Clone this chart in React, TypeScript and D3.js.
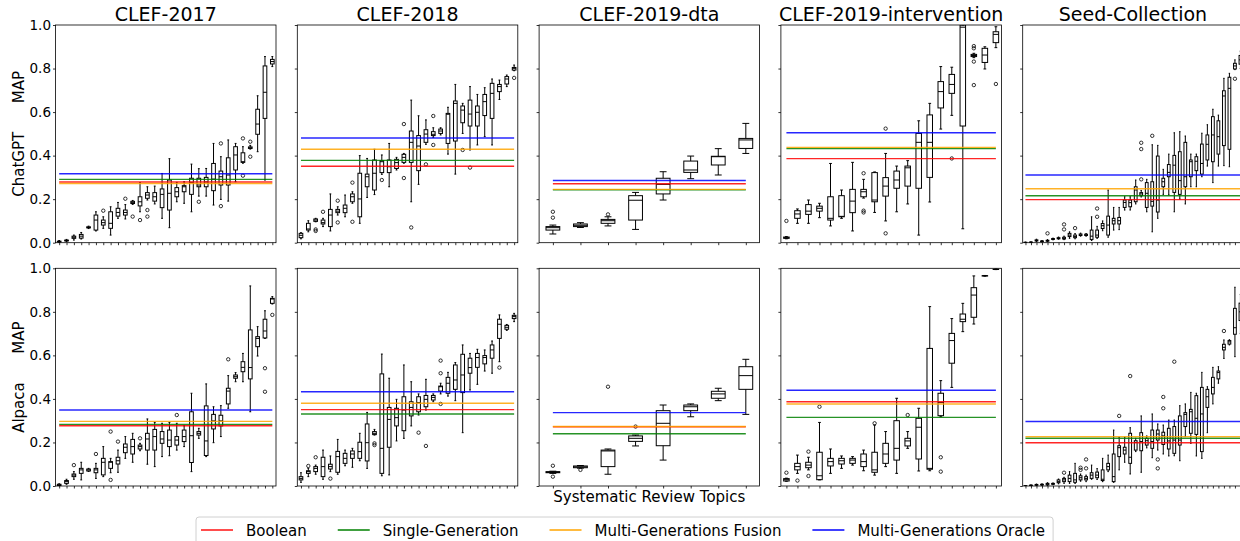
import { useEffect, useRef } from 'react';
import * as d3 from 'd3';

// [whisker low, q1, median, q3, whisker high, outliers?]
type Box = [number, number, number, number, number, number[]?];

const datasets = ['CLEF-2017', 'CLEF-2018', 'CLEF-2019-dta', 'CLEF-2019-intervention', 'Seed-Collection'];
const models = ['ChatGPT', 'Alpaca'];
const methods = ['Boolean', 'Single-Generation', 'Multi-Generations Fusion', 'Multi-Generations Oracle'];
const methodColors = ['red', 'green', 'orange', 'blue'];
const yTicks = [0, 0.2, 0.4, 0.6, 0.8, 1.0];

const chatgpt2017: Box[] = [
  [0.000, 0.003, 0.005, 0.007, 0.010], [0.005, 0.008, 0.010, 0.012, 0.015], [0.012, 0.020, 0.025, 0.030, 0.035],
  [0.017, 0.021, 0.030, 0.038, 0.047], [0.065, 0.068, 0.070, 0.073, 0.076], [0.054, 0.058, 0.104, 0.127, 0.142],
  [0.066, 0.081, 0.092, 0.104, 0.119, [0.147]], [0.035, 0.066, 0.089, 0.142, 0.165], [0.112, 0.122, 0.139, 0.158, 0.185],
  [0.109, 0.127, 0.139, 0.150, 0.175, [0.202]], [0.176, 0.180, 0.184, 0.190, 0.194, [0.120]], [0.142, 0.169, 0.188, 0.211, 0.276, [0.104]],
  [0.196, 0.204, 0.219, 0.230, 0.257, [0.150, 0.120]], [0.178, 0.191, 0.211, 0.230, 0.260], [0.112, 0.161, 0.222, 0.247, 0.318],
  [0.069, 0.150, 0.227, 0.288, 0.386], [0.188, 0.211, 0.234, 0.253, 0.277], [0.181, 0.234, 0.257, 0.262, 0.280],
  [0.142, 0.222, 0.277, 0.296, 0.361], [0.214, 0.257, 0.265, 0.296, 0.340, [0.188]], [0.214, 0.257, 0.279, 0.300, 0.341],
  [0.173, 0.239, 0.292, 0.364, 0.456], [0.199, 0.265, 0.303, 0.329, 0.395, [0.456, 0.168]], [0.191, 0.265, 0.311, 0.390, 0.472],
  [0.280, 0.334, 0.403, 0.441, 0.456], [0.365, 0.369, 0.372, 0.413, 0.441, [0.479, 0.308]], [0.430, 0.433, 0.436, 0.440, 0.447, [0.464, 0.395]],
  [0.418, 0.498, 0.545, 0.613, 0.675], [0.288, 0.571, 0.691, 0.812, 0.855], [0.809, 0.821, 0.832, 0.842, 0.855],
];

const chatgpt2018: Box[] = [
  [0.018, 0.023, 0.034, 0.043, 0.046], [0.050, 0.058, 0.063, 0.089, 0.101], [0.096, 0.098, 0.104, 0.109, 0.112, [0.061, 0.054]],
  [0.074, 0.086, 0.092, 0.104, 0.112, [0.142]], [0.054, 0.074, 0.127, 0.153, 0.224], [0.127, 0.138, 0.145, 0.153, 0.165, [0.193, 0.093]],
  [0.119, 0.138, 0.158, 0.173, 0.219], [0.181, 0.188, 0.211, 0.224, 0.234, [0.276, 0.096]], [0.089, 0.119, 0.201, 0.319, 0.400],
  [0.208, 0.257, 0.303, 0.315, 0.387], [0.221, 0.242, 0.319, 0.380, 0.429], [0.314, 0.322, 0.372, 0.377, 0.403, [0.288]],
  [0.257, 0.322, 0.349, 0.380, 0.456], [0.334, 0.341, 0.368, 0.383, 0.392], [0.365, 0.369, 0.392, 0.406, 0.410, [0.545, 0.297]],
  [0.188, 0.369, 0.461, 0.513, 0.655, [0.070]], [0.268, 0.331, 0.444, 0.492, 0.583], [0.452, 0.461, 0.499, 0.519, 0.564, [0.360]],
  [0.484, 0.492, 0.498, 0.510, 0.528, [0.582, 0.449]], [0.495, 0.502, 0.513, 0.522, 0.528], [0.407, 0.456, 0.590, 0.594, 0.622],
  [0.315, 0.467, 0.640, 0.651, 0.727], [0.502, 0.551, 0.609, 0.628, 0.640, [0.426]], [0.426, 0.536, 0.591, 0.655, 0.717, [0.345]],
  [0.449, 0.536, 0.599, 0.628, 0.681], [0.487, 0.584, 0.648, 0.681, 0.712], [0.449, 0.571, 0.686, 0.732, 0.752],
  [0.658, 0.694, 0.717, 0.727, 0.747], [0.717, 0.729, 0.752, 0.763, 0.770], [0.790, 0.793, 0.801, 0.805, 0.816, [0.757]],
];

const chatgptDta: Box[] = [
  [0.040, 0.058, 0.069, 0.074, 0.081, [0.142, 0.115]], [0.070, 0.074, 0.080, 0.086, 0.092],
  [0.077, 0.089, 0.101, 0.107, 0.119, [0.130]], [0.061, 0.104, 0.195, 0.216, 0.231],
  [0.196, 0.224, 0.268, 0.296, 0.326], [0.294, 0.323, 0.334, 0.375, 0.398],
  [0.311, 0.357, 0.395, 0.397, 0.432], [0.410, 0.433, 0.472, 0.479, 0.548],
];

const chatgptIntervention: Box[] = [
  [0.018, 0.020, 0.023, 0.026, 0.028, [0.100]], [0.089, 0.112, 0.132, 0.147, 0.155], [0.089, 0.130, 0.145, 0.175, 0.196],
  [0.115, 0.145, 0.158, 0.168, 0.181], [0.077, 0.104, 0.112, 0.211, 0.364], [0.112, 0.119, 0.121, 0.216, 0.242],
  [0.054, 0.138, 0.191, 0.245, 0.369], [0.205, 0.211, 0.234, 0.245, 0.291, [0.319, 0.147, 0.139]], [0.139, 0.188, 0.196, 0.322, 0.325],
  [0.100, 0.214, 0.260, 0.299, 0.410, [0.524, 0.043]], [0.142, 0.250, 0.288, 0.329, 0.352], [0.178, 0.260, 0.344, 0.352, 0.377],
  [0.035, 0.250, 0.461, 0.502, 0.560], [0.187, 0.300, 0.461, 0.587, 0.640], [0.522, 0.619, 0.694, 0.740, 0.809],
  [0.585, 0.686, 0.727, 0.773, 0.806, [0.387]], [0.064, 0.536, 0.990, 1.000, 1.000], [0.850, 0.855, 0.860, 0.865, 0.870, [0.903, 0.893, 0.832, 0.724]],
  [0.798, 0.828, 0.862, 0.893, 0.900], [0.896, 0.919, 0.957, 0.969, 0.992, [0.729]],
];

const chatgptSeed: Box[] = [
  [0.000, 0.000, 0.001, 0.002, 0.003], [0.000, 0.001, 0.002, 0.003, 0.004], [0.005, 0.008, 0.010, 0.013, 0.016],
  [0.003, 0.005, 0.006, 0.008, 0.010], [0.005, 0.007, 0.009, 0.011, 0.014, [0.043]], [0.013, 0.015, 0.017, 0.019, 0.021],
  [0.016, 0.018, 0.020, 0.023, 0.026], [0.014, 0.017, 0.020, 0.025, 0.030, [0.084, 0.061]], [0.020, 0.028, 0.035, 0.043, 0.050],
  [0.018, 0.023, 0.028, 0.035, 0.042, [0.067]], [0.030, 0.033, 0.036, 0.040, 0.044], [0.030, 0.033, 0.036, 0.039, 0.042],
  [0.010, 0.015, 0.030, 0.058, 0.119], [0.020, 0.025, 0.035, 0.058, 0.075, [0.157, 0.119]], [0.055, 0.065, 0.078, 0.088, 0.100],
  [0.025, 0.035, 0.081, 0.122, 0.242], [0.058, 0.086, 0.101, 0.112, 0.162], [0.060, 0.086, 0.101, 0.116, 0.162],
  [0.150, 0.162, 0.185, 0.196, 0.211], [0.150, 0.165, 0.184, 0.196, 0.211], [0.178, 0.188, 0.242, 0.257, 0.288],
  [0.210, 0.216, 0.224, 0.230, 0.240, [0.291, 0.459, 0.430]], [0.142, 0.162, 0.227, 0.276, 0.291], [0.050, 0.168, 0.190, 0.280, 0.450, [0.491]],
  [0.112, 0.141, 0.196, 0.398, 0.447], [0.222, 0.257, 0.280, 0.296, 0.337], [0.219, 0.303, 0.323, 0.359, 0.407],
  [0.142, 0.231, 0.356, 0.401, 0.505], [0.200, 0.222, 0.285, 0.418, 0.510], [0.178, 0.257, 0.303, 0.461, 0.490],
  [0.257, 0.303, 0.372, 0.380, 0.407], [0.257, 0.331, 0.374, 0.395, 0.407], [0.303, 0.315, 0.364, 0.453, 0.503],
  [0.352, 0.380, 0.452, 0.495, 0.542], [0.276, 0.372, 0.495, 0.579, 0.613], [0.352, 0.407, 0.487, 0.560, 0.586],
  [0.354, 0.446, 0.674, 0.698, 0.755], [0.349, 0.429, 0.709, 0.760, 0.778], [0.795, 0.798, 0.812, 0.824, 0.840, [0.753]],
  [0.800, 0.820, 0.840, 0.860, 0.880],
];

const alpaca2017: Box[] = [
  [0.000, 0.002, 0.005, 0.008, 0.010], [0.008, 0.012, 0.020, 0.025, 0.031], [0.031, 0.043, 0.050, 0.055, 0.066, [0.096]],
  [0.028, 0.058, 0.074, 0.081, 0.109], [0.067, 0.069, 0.074, 0.078, 0.081], [0.035, 0.061, 0.074, 0.081, 0.104, [0.147]],
  [0.043, 0.051, 0.109, 0.127, 0.181], [0.061, 0.081, 0.109, 0.112, 0.127, [0.250, 0.028]], [0.063, 0.101, 0.116, 0.132, 0.165, [0.204]],
  [0.127, 0.153, 0.178, 0.193, 0.227], [0.109, 0.147, 0.181, 0.214, 0.242], [0.162, 0.170, 0.181, 0.188, 0.196, [0.219]],
  [0.100, 0.165, 0.216, 0.242, 0.308], [0.089, 0.165, 0.227, 0.260, 0.292], [0.135, 0.196, 0.216, 0.250, 0.288],
  [0.139, 0.181, 0.211, 0.257, 0.292], [0.165, 0.188, 0.211, 0.227, 0.288, [0.326]], [0.181, 0.204, 0.227, 0.257, 0.277],
  [0.066, 0.108, 0.231, 0.341, 0.426], [0.219, 0.234, 0.242, 0.250, 0.265], [0.135, 0.140, 0.207, 0.368, 0.469],
  [0.199, 0.262, 0.299, 0.329, 0.364], [0.227, 0.276, 0.299, 0.325, 0.369], [0.357, 0.377, 0.436, 0.449, 0.507, [0.582]],
  [0.479, 0.495, 0.502, 0.510, 0.521], [0.479, 0.525, 0.545, 0.571, 0.609], [0.341, 0.492, 0.544, 0.717, 0.919],
  [0.597, 0.640, 0.678, 0.686, 0.732], [0.678, 0.680, 0.712, 0.766, 0.805, [0.541, 0.433]], [0.836, 0.839, 0.859, 0.862, 0.870, [0.786]],
];

const alpaca2018: Box[] = [
  [0.017, 0.028, 0.035, 0.043, 0.061], [0.043, 0.058, 0.066, 0.070, 0.081, [0.092]], [0.054, 0.066, 0.081, 0.089, 0.096, [0.132]],
  [0.031, 0.043, 0.089, 0.132, 0.165], [0.066, 0.078, 0.089, 0.100, 0.138, [0.034]], [0.054, 0.063, 0.135, 0.159, 0.214],
  [0.093, 0.104, 0.127, 0.150, 0.165], [0.086, 0.127, 0.147, 0.161, 0.173], [0.116, 0.127, 0.158, 0.201, 0.242],
  [0.081, 0.115, 0.199, 0.285, 0.338], [0.234, 0.236, 0.242, 0.250, 0.260, [0.196, 0.188]], [0.047, 0.058, 0.173, 0.515, 0.606],
  [0.051, 0.178, 0.306, 0.361, 0.495], [0.207, 0.276, 0.314, 0.357, 0.398], [0.219, 0.254, 0.349, 0.410, 0.556],
  [0.276, 0.322, 0.361, 0.387, 0.479], [0.326, 0.341, 0.383, 0.410, 0.423, [0.245]], [0.349, 0.364, 0.398, 0.416, 0.490, [0.184]],
  [0.387, 0.395, 0.407, 0.416, 0.423], [0.423, 0.436, 0.456, 0.459, 0.472, [0.576, 0.518, 0.377]], [0.413, 0.426, 0.472, 0.499, 0.522],
  [0.392, 0.444, 0.487, 0.556, 0.567], [0.245, 0.429, 0.510, 0.605, 0.648], [0.441, 0.518, 0.544, 0.587, 0.609],
  [0.467, 0.545, 0.590, 0.609, 0.628], [0.528, 0.561, 0.590, 0.599, 0.625], [0.518, 0.587, 0.625, 0.648, 0.666],
  [0.571, 0.678, 0.743, 0.766, 0.786, [0.544]], [0.715, 0.720, 0.729, 0.738, 0.742], [0.755, 0.769, 0.778, 0.784, 0.793],
];

const alpacaDta: Box[] = [
  [0.058, 0.061, 0.063, 0.066, 0.068, [0.093, 0.043]], [0.082, 0.084, 0.088, 0.092, 0.094, [0.074]],
  [0.054, 0.089, 0.161, 0.165, 0.170, [0.456]], [0.184, 0.205, 0.219, 0.230, 0.234, [0.273]],
  [0.119, 0.185, 0.288, 0.346, 0.372], [0.318, 0.346, 0.364, 0.372, 0.377],
  [0.392, 0.403, 0.423, 0.435, 0.449], [0.329, 0.444, 0.507, 0.548, 0.582],
];

const alpacaIntervention: Box[] = [
  [0.022, 0.023, 0.029, 0.034, 0.036, [0.061]], [0.058, 0.074, 0.089, 0.104, 0.142, [0.025]], [0.074, 0.084, 0.096, 0.109, 0.132, [0.158, 0.046]],
  [0.028, 0.029, 0.047, 0.155, 0.292, [0.364]], [0.058, 0.092, 0.112, 0.127, 0.170], [0.081, 0.101, 0.116, 0.127, 0.138],
  [0.096, 0.104, 0.119, 0.127, 0.135], [0.070, 0.089, 0.112, 0.147, 0.165], [0.050, 0.063, 0.074, 0.155, 0.280, [0.288]],
  [0.089, 0.104, 0.147, 0.196, 0.250], [0.058, 0.119, 0.173, 0.300, 0.403], [0.173, 0.184, 0.207, 0.219, 0.250, [0.326]],
  [0.069, 0.124, 0.270, 0.311, 0.357], [0.070, 0.077, 0.081, 0.632, 0.824], [0.318, 0.323, 0.383, 0.426, 0.484, [0.132, 0.066]],
  [0.453, 0.564, 0.668, 0.701, 0.769], [0.709, 0.755, 0.766, 0.790, 0.839], [0.744, 0.775, 0.877, 0.911, 0.965],
  [0.964, 0.965, 0.966, 0.966, 0.967], [0.994, 0.995, 0.995, 0.996, 0.997],
];

const alpacaSeed: Box[] = [
  [0.000, 0.000, 0.001, 0.001, 0.002], [0.001, 0.002, 0.003, 0.004, 0.005], [0.002, 0.004, 0.005, 0.007, 0.009],
  [0.003, 0.005, 0.006, 0.008, 0.010], [0.003, 0.005, 0.008, 0.012, 0.015], [0.006, 0.008, 0.010, 0.012, 0.014],
  [0.010, 0.015, 0.020, 0.028, 0.032], [0.012, 0.020, 0.028, 0.035, 0.040, [0.061]], [0.012, 0.020, 0.035, 0.050, 0.066],
  [0.012, 0.017, 0.028, 0.058, 0.104], [0.022, 0.028, 0.038, 0.047, 0.055, [0.084, 0.074]], [0.020, 0.028, 0.035, 0.043, 0.050, [0.122, 0.081]],
  [0.031, 0.035, 0.050, 0.061, 0.096], [0.030, 0.038, 0.050, 0.064, 0.080], [0.020, 0.025, 0.031, 0.074, 0.127],
  [0.066, 0.074, 0.089, 0.104, 0.142], [0.017, 0.020, 0.043, 0.147, 0.257], [0.074, 0.135, 0.176, 0.185, 0.224, [0.322]],
  [0.109, 0.147, 0.165, 0.178, 0.224], [0.055, 0.104, 0.132, 0.242, 0.268, [0.505]], [0.158, 0.165, 0.200, 0.208, 0.219],
  [0.063, 0.162, 0.204, 0.245, 0.322], [0.175, 0.188, 0.208, 0.219, 0.230], [0.130, 0.173, 0.204, 0.257, 0.331],
  [0.165, 0.211, 0.239, 0.257, 0.285, [0.122, 0.081]], [0.147, 0.191, 0.230, 0.247, 0.280, [0.409, 0.357]], [0.138, 0.170, 0.207, 0.265, 0.303],
  [0.139, 0.150, 0.211, 0.273, 0.303, [0.571]], [0.116, 0.188, 0.211, 0.322, 0.369], [0.227, 0.273, 0.329, 0.337, 0.377],
  [0.196, 0.242, 0.341, 0.352, 0.430], [0.138, 0.237, 0.311, 0.415, 0.426], [0.127, 0.158, 0.331, 0.453, 0.522],
  [0.245, 0.361, 0.410, 0.444, 0.456], [0.377, 0.423, 0.453, 0.499, 0.545], [0.472, 0.492, 0.521, 0.528, 0.548],
  [0.586, 0.625, 0.637, 0.651, 0.671, [0.712]], [0.648, 0.652, 0.662, 0.668, 0.672], [0.594, 0.697, 0.727, 0.816, 0.913],
  [0.700, 0.760, 0.800, 0.840, 0.880],
];

// per dataset: Boolean, Single-Generation, Multi-Generations Fusion, Multi-Generations Oracle
const chatgptBaselines = [
  [0.279, 0.291, 0.272, 0.317],
  [0.351, 0.378, 0.429, 0.481],
  [0.271, 0.243, 0.245, 0.286],
  [0.386, 0.432, 0.438, 0.505],
  [0.198, 0.216, 0.248, 0.311],
];
const alpacaBaselines = [
  [0.277, 0.283, 0.297, 0.349],
  [0.351, 0.331, 0.380, 0.433],
  [0.272, 0.240, 0.273, 0.337],
  [0.387, 0.315, 0.377, 0.440],
  [0.199, 0.219, 0.227, 0.296],
];

const boxRows = [
  [chatgpt2017, chatgpt2018, chatgptDta, chatgptIntervention, chatgptSeed],
  [alpaca2017, alpaca2018, alpacaDta, alpacaIntervention, alpacaSeed],
];
const baselineRows = [chatgptBaselines, alpacaBaselines];

const FONT = "'DejaVu Sans', sans-serif";

export default function App() {
  const svgRef = useRef<SVGSVGElement>(null);

  useEffect(() => {
    if (!svgRef.current) return;
    const width = 1240;
    const height = 541;
    const panelW = 220.5;
    const panelH = 217.7;
    const lefts = datasets.map((_, i) => 55.5 + i * 241.8);
    const tops = [25, 268.3];

    const svg = d3.select(svgRef.current)
      .attr('width', width)
      .attr('height', height)
      .attr('viewBox', `0 0 ${width} ${height}`);
    svg.selectAll('*').remove();
    svg.append('rect').attr('width', width).attr('height', height).attr('fill', '#fff');

    const defs = svg.append('defs');

    boxRows.forEach((row, r) => {
      row.forEach((boxes, c) => {
        const left = lefts[c];
        const top = tops[r];
        const n = boxes.length;
        const x = d3.scaleLinear().domain([0.5, n + 0.5]).range([left, left + panelW]);
        const y = d3.scaleLinear().domain([0, 1]).range([top + panelH, top]);
        const clipId = `clip-${r}-${c}`;
        defs.append('clipPath').attr('id', clipId)
          .append('rect').attr('x', left).attr('y', top).attr('width', panelW).attr('height', panelH);

        const g = svg.append('g').attr('clip-path', `url(#${clipId})`);
        const boxG = g.selectAll('g.box')
          .data(boxes)
          .join('g')
          .attr('class', 'box')
          .attr('stroke', '#000')
          .attr('stroke-width', 1)
          .attr('fill', 'none');

        // whiskers
        boxG.append('line')
          .attr('x1', (_, i) => x(i + 1)).attr('x2', (_, i) => x(i + 1))
          .attr('y1', d => y(d[0])).attr('y2', d => y(d[1]));
        boxG.append('line')
          .attr('x1', (_, i) => x(i + 1)).attr('x2', (_, i) => x(i + 1))
          .attr('y1', d => y(d[3])).attr('y2', d => y(d[4]));
        // caps
        boxG.append('line')
          .attr('x1', (_, i) => x(i + 1 - 0.125)).attr('x2', (_, i) => x(i + 1 + 0.125))
          .attr('y1', d => y(d[0])).attr('y2', d => y(d[0]));
        boxG.append('line')
          .attr('x1', (_, i) => x(i + 1 - 0.125)).attr('x2', (_, i) => x(i + 1 + 0.125))
          .attr('y1', d => y(d[4])).attr('y2', d => y(d[4]));
        // box
        boxG.append('rect')
          .attr('x', (_, i) => x(i + 1 - 0.25))
          .attr('width', x(1.5) - x(1))
          .attr('y', d => y(d[3]))
          .attr('height', d => Math.max(0.3, y(d[1]) - y(d[3])));
        // median
        boxG.append('line')
          .attr('x1', (_, i) => x(i + 1 - 0.25)).attr('x2', (_, i) => x(i + 1 + 0.25))
          .attr('y1', d => y(d[2])).attr('y2', d => y(d[2]));
        // fliers
        boxG.each(function (d, i) {
          d3.select(this).selectAll('circle')
            .data(d[5] || [])
            .join('circle')
            .attr('cx', x(i + 1))
            .attr('cy', v => y(v))
            .attr('r', 1.7)
            .attr('stroke-width', 0.8);
        });

        // baseline lines
        g.selectAll('line.baseline')
          .data(baselineRows[r][c])
          .join('line')
          .attr('class', 'baseline')
          .attr('x1', x(1)).attr('x2', x(n))
          .attr('y1', v => y(v)).attr('y2', v => y(v))
          .attr('stroke', (_, k) => methodColors[k])
          .attr('stroke-width', 1.4)
          .attr('stroke-opacity', 0.85);

        // axes
        const yAxis = svg.append('g')
          .attr('transform', `translate(${left},0)`)
          .call(d3.axisLeft(y).tickValues(yTicks).tickSize(2.5).tickPadding(2)
            .tickFormat(c === 0 ? (d => d3.format('.1f')(d as number)) : () => ''));
        yAxis.select('.domain').remove();
        yAxis.selectAll('line').attr('stroke', '#000').attr('stroke-width', 0.8);
        yAxis.selectAll('text').attr('font-family', FONT).attr('font-size', 13.5).attr('fill', '#000');

        const xAxis = svg.append('g')
          .attr('transform', `translate(0,${top + panelH})`)
          .call(d3.axisBottom(x).tickValues(d3.range(1, n + 1)).tickSize(2.5).tickFormat(() => ''));
        xAxis.select('.domain').remove();
        xAxis.selectAll('line').attr('stroke', '#000').attr('stroke-width', 0.8);

        // spines
        svg.append('rect')
          .attr('x', left).attr('y', top).attr('width', panelW).attr('height', panelH)
          .attr('fill', 'none').attr('stroke', '#000').attr('stroke-width', 0.8);

        if (r === 0) {
          svg.append('text')
            .attr('x', left + panelW / 2).attr('y', 20.5)
            .attr('text-anchor', 'middle')
            .attr('font-family', FONT).attr('font-size', 19)
            .text(datasets[c]);
        }
      });

      const cy = tops[r] + panelH / 2;
      svg.append('text')
        .attr('transform', `translate(18.5,${cy}) rotate(-90)`)
        .attr('text-anchor', 'middle')
        .attr('dominant-baseline', 'central')
        .attr('font-family', FONT).attr('font-size', 15)
        .style('white-space', 'pre')
        .text(`${models[r]}      MAP`);
    });

    svg.append('text')
      .attr('x', lefts[2] + panelW / 2).attr('y', 502)
      .attr('text-anchor', 'middle')
      .attr('font-family', FONT).attr('font-size', 15)
      .text('Systematic Review Topics');

    // legend
    const legend = svg.append('g');
    const frame = legend.append('rect')
      .attr('x', 196).attr('y', 517).attr('rx', 3)
      .attr('height', 30)
      .attr('fill', '#fff').attr('stroke', '#d0d0d0').attr('stroke-width', 1);
    let cx = 201;
    methods.forEach((m, k) => {
      legend.append('line')
        .attr('x1', cx).attr('x2', cx + 32)
        .attr('y1', 530).attr('y2', 530)
        .attr('stroke', methodColors[k]).attr('stroke-width', 1.4);
      const t = legend.append('text')
        .attr('x', cx + 45).attr('y', 535.5)
        .attr('font-family', FONT).attr('font-size', 15)
        .text(m);
      const w = (t.node() as SVGTextElement).getComputedTextLength();
      cx = cx + 45 + w + 31;
    });
    frame.attr('width', cx - 31 + 8 - 196);
  }, []);

  return (
    <svg ref={svgRef} style={{ position: 'absolute', left: 0, top: 0, display: 'block' }}></svg>
  );
}
